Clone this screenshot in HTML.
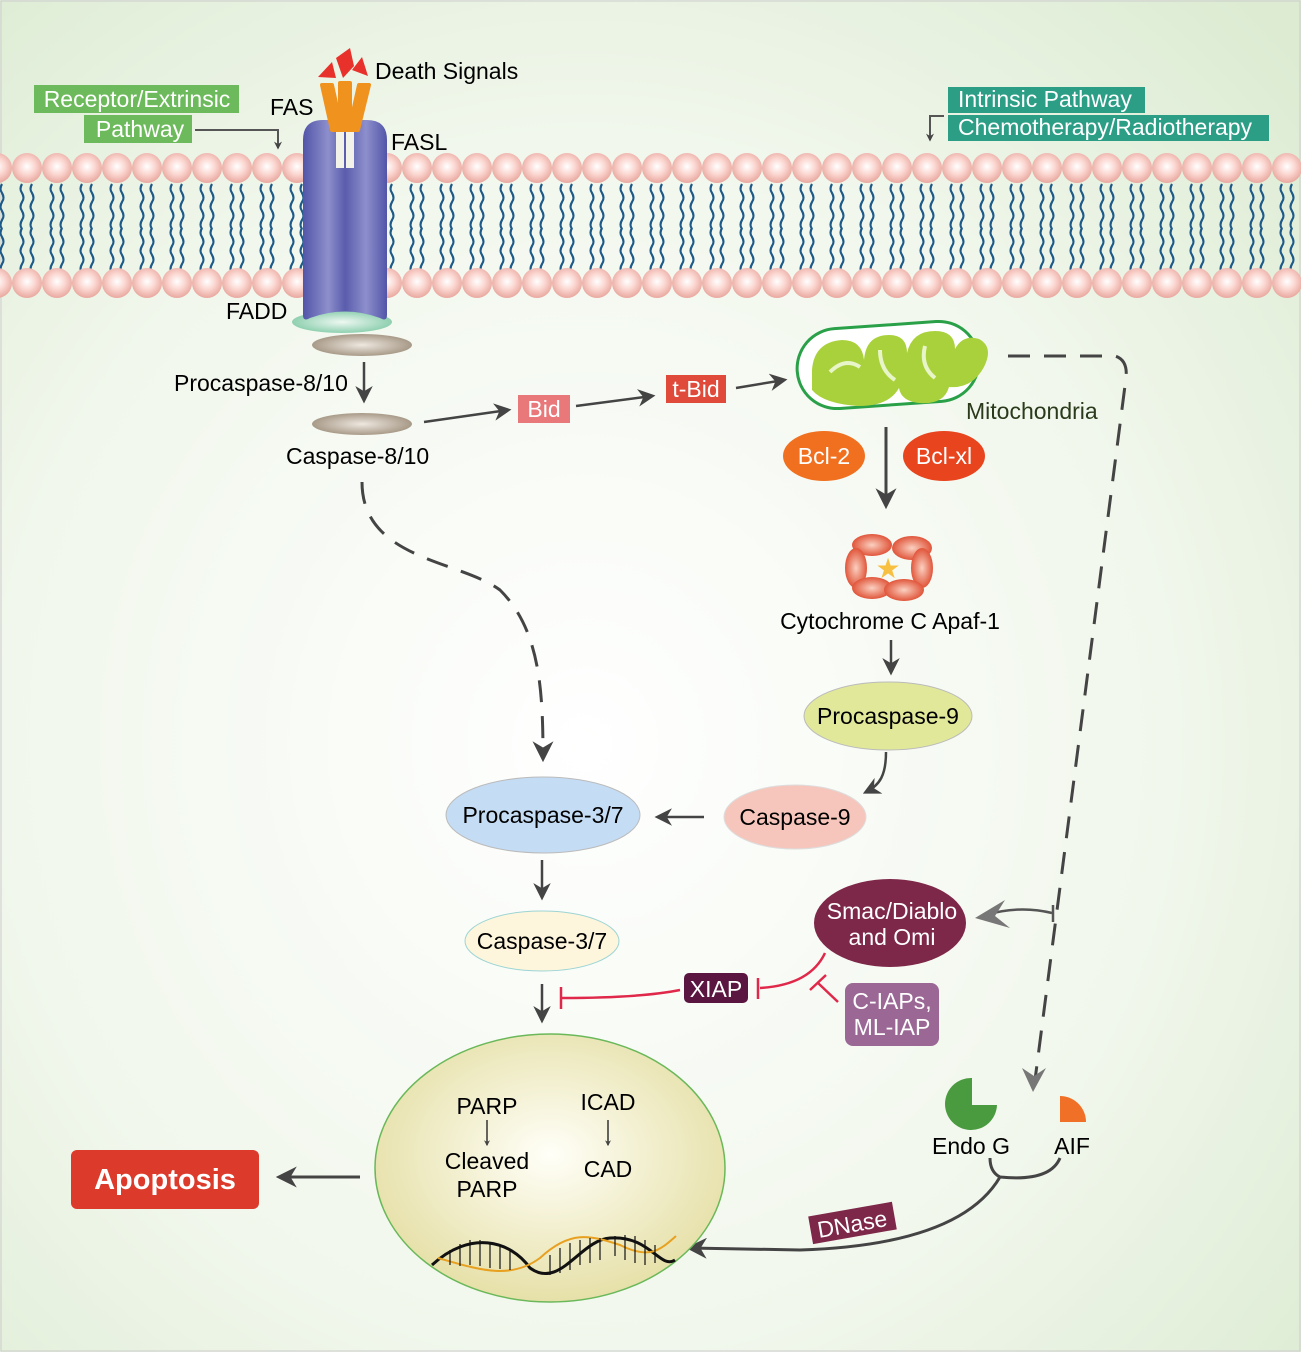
<!DOCTYPE html>
<html><head><meta charset="utf-8"><style>
html,body{margin:0;padding:0;background:#fff}
svg{display:block}
text{font-family:"Liberation Sans",Arial,sans-serif;font-size:23px}
text.big{font-size:29px}
</style></head><body>
<svg width="1301" height="1352" viewBox="0 0 1301 1352" xmlns="http://www.w3.org/2000/svg">
<defs>
<radialGradient id="bg" cx="0.45" cy="0.55" r="0.75">
<stop offset="0" stop-color="#ffffff"/><stop offset="0.6" stop-color="#f1f7ec"/><stop offset="1" stop-color="#dcebd2"/></radialGradient>
<radialGradient id="head" cx="0.5" cy="0.45" r="0.55"><stop offset="0" stop-color="#fff"/><stop offset="0.5" stop-color="#fbd6d0"/><stop offset="1" stop-color="#e8a89f"/></radialGradient>
<pattern id="heads" x="12" y="0" width="30" height="400" patternUnits="userSpaceOnUse">
<path d="M10 184 q-3 5 0 9 q3 5 0 9 q-3 5 0 9 q3 5 0 9 q-3 5 0 9 M20 184 q-3 5 0 9 q3 5 0 9 q-3 5 0 9 q3 5 0 9 q-3 5 0 9 M10 228 q-3 5 0 9 q3 5 0 9 q-3 5 0 9 q3 5 0 9 q-3 5 0 9 M20 228 q-3 5 0 9 q3 5 0 9 q-3 5 0 9 q3 5 0 9 q-3 5 0 9" stroke="#1d5a8a" stroke-width="2.2" fill="none"/>
<circle cx="15" cy="168" r="15" fill="url(#head)"/>
<circle cx="15" cy="283" r="15" fill="url(#head)"/>
</pattern>
<linearGradient id="rec" x1="0" x2="1"><stop offset="0" stop-color="#5255a8"/><stop offset="0.3" stop-color="#8d8fcc"/><stop offset="0.5" stop-color="#5a5cad"/><stop offset="0.75" stop-color="#8d8fcc"/><stop offset="1" stop-color="#5255a8"/></linearGradient>
<radialGradient id="brown"><stop offset="0" stop-color="#eee8e0"/><stop offset="1" stop-color="#a89a88"/></radialGradient>
<radialGradient id="fadd"><stop offset="0" stop-color="#eef8f2"/><stop offset="1" stop-color="#8fd0b0"/></radialGradient>
<radialGradient id="nuc" cx="0.5" cy="0.45" r="0.55"><stop offset="0" stop-color="#fffff8"/><stop offset="1" stop-color="#e6e0a8"/></radialGradient>
<radialGradient id="cyto"><stop offset="0" stop-color="#fbd0c0"/><stop offset="1" stop-color="#e0553a"/></radialGradient>
<marker id="ar" viewBox="0 0 10 10" refX="8" refY="5" markerWidth="7" markerHeight="7" orient="auto"><path d="M0 0 L10 5 L0 10 L3 5z" fill="#444"/></marker>
<marker id="ars" viewBox="0 0 10 10" refX="8" refY="5" markerWidth="4" markerHeight="4" orient="auto"><path d="M0 0 L10 5 L0 10 L3 5z" fill="#444"/></marker>
</defs>
<rect width="1301" height="1352" fill="url(#bg)"/>
<rect x="1" y="1" width="1299" height="1350" fill="none" stroke="#ccc"/>
<rect x="0" y="150" width="1301" height="152" fill="url(#heads)"/>
<!-- receptor -->
<ellipse cx="342" cy="322" rx="50" ry="11" fill="url(#fadd)"/>
<path d="M303 140 Q303 120 323 120 L367 120 Q387 120 387 140 L387 315 Q387 322 380 318 Q345 305 310 318 Q303 322 303 315Z" fill="url(#rec)"/>
<rect x="336" y="125" width="8" height="43" fill="#f2f2e8"/><rect x="346" y="125" width="8" height="43" fill="#f2f2e8"/>
<path d="M322 85 L332 130 L342 130 L332 85Z M340 83 L340 130 L350 130 L350 83Z M359 85 L349 130 L358 130 L369 85Z" fill="#f0921e" stroke="#f0921e" stroke-width="4" stroke-linejoin="round"/>
<path d="M318 77 L332 62 L336 78Z M336 58 L350 48 L354 66 L343 78Z M352 70 L362 57 L368 76Z" fill="#e8312a"/>
<ellipse cx="362" cy="345" rx="50" ry="11" fill="url(#brown)"/>
<ellipse cx="362" cy="424" rx="50" ry="11" fill="url(#brown)"/>
<text x="375" y="79">Death Signals</text>
<text x="270" y="115">FAS</text>
<text x="391" y="150">FASL</text>
<text x="226" y="319">FADD</text>
<rect x="34" y="85" width="205" height="28" fill="#6dba5c"/>
<rect x="84" y="115" width="108" height="28" fill="#6dba5c"/>
<text x="137" y="107" fill="#fff" text-anchor="middle">Receptor/Extrinsic</text>
<text x="140" y="137" fill="#fff" text-anchor="middle">Pathway</text>
<path d="M195 130 L278 130 L278 148" stroke="#555" stroke-width="2" fill="none" marker-end="url(#ars)"/>
<rect x="948" y="87" width="197" height="26" fill="#2d9e86"/>
<rect x="948" y="115" width="321" height="26" fill="#2d9e86"/>
<text x="958" y="107" fill="#fff">Intrinsic Pathway</text>
<text x="958" y="135" fill="#fff">Chemotherapy/Radiotherapy</text>
<path d="M944 116 L930 116 L930 140" stroke="#555" stroke-width="2" fill="none" marker-end="url(#ars)"/>
<!-- extrinsic -->
<text x="174" y="391">Procaspase-8/10</text>
<line x1="364" y1="362" x2="364" y2="400" stroke="#444" stroke-width="2.5" marker-end="url(#ar)"/>
<text x="286" y="464">Caspase-8/10</text>
<line x1="424" y1="422" x2="508" y2="410" stroke="#444" stroke-width="2.5" marker-end="url(#ar)"/>
<rect x="518" y="395" width="52" height="28" fill="#e8787a"/><text x="544" y="417" fill="#fff" text-anchor="middle">Bid</text>
<line x1="576" y1="406" x2="652" y2="396" stroke="#444" stroke-width="2.5" marker-end="url(#ar)"/>
<rect x="666" y="375" width="60" height="28" fill="#e04a3a"/><text x="696" y="397" fill="#fff" text-anchor="middle">t-Bid</text>
<line x1="736" y1="388" x2="784" y2="380" stroke="#444" stroke-width="2.5" marker-end="url(#ar)"/>
<path d="M362 482 C362 560 460 560 500 590 C540 630 543 690 543 758" stroke="#444" stroke-width="3" fill="none" stroke-dasharray="22 14" marker-end="url(#ar)"/>
<!-- mitochondria -->
<rect x="797" y="325" width="182" height="80" rx="40" transform="rotate(-4 888 365)" fill="#fff" stroke="#2aa048" stroke-width="3"/>
<path d="M812 370 q2 -28 30 -30 q20 0 22 20 q2 -25 25 -25 q18 0 18 18 q5 -22 28 -22 q20 0 20 18 q8 -15 24 -10 q15 8 5 28 q-12 22 -35 20 q-5 18 -30 16 q-18 -2 -20 -15 q-10 18 -40 18 q-35 -2 -47 -16z" fill="#a9d13c"/>
<path d="M830 372 q15 -15 30 -5 M880 350 q0 20 15 30 M925 346 q-5 20 10 32" stroke="#e8f5c8" stroke-width="4" fill="none"/>
<text x="966" y="419" fill="#2a3a1a">Mitochondria</text>
<path d="M1008 356 L1115 356 Q1128 360 1126 378 L1035 1080" stroke="#444" stroke-width="3" fill="none" stroke-dasharray="22 14"/>
<path d="M1022 1068 L1033 1092 L1046 1068 L1034 1076Z" fill="#777"/>
<ellipse cx="824" cy="456" rx="41" ry="25" fill="#f07020"/><text x="824" y="464" fill="#fff" text-anchor="middle">Bcl-2</text>
<ellipse cx="944" cy="456" rx="41" ry="25" fill="#e8441e"/><text x="944" y="464" fill="#fff" text-anchor="middle">Bcl-xl</text>
<line x1="886" y1="427" x2="886" y2="505" stroke="#444" stroke-width="3" marker-end="url(#ar)"/>
<g fill="url(#cyto)">
<ellipse cx="872" cy="545" rx="20" ry="11"/><ellipse cx="912" cy="548" rx="20" ry="12"/><ellipse cx="922" cy="568" rx="11" ry="20"/>
<ellipse cx="856" cy="568" rx="11" ry="20"/><ellipse cx="872" cy="588" rx="20" ry="11"/><ellipse cx="904" cy="590" rx="20" ry="11"/></g>
<text x="888" y="578" fill="#f8c040" text-anchor="middle" style="font-size:28px">★</text>
<text x="890" y="629" text-anchor="middle">Cytochrome C Apaf-1</text>
<line x1="891" y1="640" x2="891" y2="672" stroke="#444" stroke-width="2.5" marker-end="url(#ar)"/>
<ellipse cx="888" cy="716" rx="84" ry="34" fill="#e1e89a" stroke="#bbb"/><text x="888" y="724" text-anchor="middle">Procaspase-9</text>
<path d="M886 752 C886 775 880 785 866 792" stroke="#444" stroke-width="2.5" fill="none" marker-end="url(#ar)"/>
<ellipse cx="795" cy="817" rx="71" ry="32" fill="#f6c6bc" stroke="#ddd"/><text x="795" y="825" text-anchor="middle">Caspase-9</text>
<line x1="704" y1="817" x2="658" y2="817" stroke="#444" stroke-width="2.5" marker-end="url(#ar)"/>
<ellipse cx="543" cy="815" rx="97" ry="38" fill="#c4dcf4" stroke="#bbb"/><text x="543" y="823" text-anchor="middle">Procaspase-3/7</text>
<line x1="542" y1="860" x2="542" y2="897" stroke="#444" stroke-width="2.5" marker-end="url(#ar)"/>
<ellipse cx="542" cy="941" rx="77" ry="30" fill="#fdf6dc" stroke="#9cd4d4"/><text x="542" y="949" text-anchor="middle">Caspase-3/7</text>
<line x1="542" y1="984" x2="542" y2="1020" stroke="#444" stroke-width="2.5" marker-end="url(#ar)"/>
<!-- inhibitors -->
<ellipse cx="890" cy="923" rx="76" ry="44" fill="#7d2749"/>
<text x="892" y="919" fill="#fff" text-anchor="middle">Smac/Diablo</text>
<text x="892" y="945" fill="#fff" text-anchor="middle">and Omi</text>
<path d="M1052 913 Q1020 905 985 915" stroke="#555" stroke-width="2.5" fill="none"/>
<line x1="1053" y1="905" x2="1053" y2="922" stroke="#555" stroke-width="2.5"/>
<path d="M975 918 L1005 900 L995 916 L1010 928Z" fill="#777"/>
<rect x="684" y="973" width="64" height="30" rx="5" fill="#5a1540"/><text x="716" y="997" fill="#fff" text-anchor="middle">XIAP</text>
<path d="M825 953 Q810 985 760 988" stroke="#e0284a" stroke-width="2.5" fill="none"/>
<line x1="758" y1="978" x2="758" y2="999" stroke="#e0284a" stroke-width="2.5"/>
<path d="M838 1002 L818 983 M810 990 L826 975" stroke="#e0284a" stroke-width="2.5"/>
<path d="M680 990 Q640 998 562 998" stroke="#e0284a" stroke-width="2.5" fill="none"/>
<line x1="561" y1="987" x2="561" y2="1009" stroke="#e0284a" stroke-width="2.5"/>
<rect x="845" y="983" width="94" height="63" rx="8" fill="#9b6896"/>
<text x="892" y="1009" fill="#fff" text-anchor="middle">C-IAPs,</text>
<text x="892" y="1035" fill="#fff" text-anchor="middle">ML-IAP</text>
<!-- endo G / AIF -->
<path d="M972 1078 A26 26 0 1 0 997 1105 L972 1105Z" fill="#4a9a40"/>
<path d="M1060 1122 L1060 1096 A26 26 0 0 1 1086 1122Z" fill="#f07028"/>
<text x="971" y="1154" text-anchor="middle">Endo G</text>
<text x="1072" y="1154" text-anchor="middle">AIF</text>
<path d="M990 1158 Q990 1172 1000 1177 Q1050 1182 1060 1158 M1000 1177 Q960 1245 800 1250 L690 1248" stroke="#444" stroke-width="3" fill="none" marker-end="url(#ar)"/>
<rect x="810" y="1209" width="85" height="28" fill="#7d2749" transform="rotate(-10 852 1223)"/>
<text x="852" y="1232" fill="#fff" text-anchor="middle" transform="rotate(-10 852 1223)">DNase</text>
<!-- nucleus -->
<ellipse cx="550" cy="1168" rx="175" ry="134" fill="url(#nuc)" stroke="#6ab85a" stroke-width="1.5"/>
<text x="487" y="1114" text-anchor="middle">PARP</text>
<line x1="487" y1="1120" x2="487" y2="1145" stroke="#333" stroke-width="1.5" marker-end="url(#ars)"/>
<text x="487" y="1169" text-anchor="middle">Cleaved</text>
<text x="487" y="1197" text-anchor="middle">PARP</text>
<text x="608" y="1110" text-anchor="middle">ICAD</text>
<line x1="608" y1="1120" x2="608" y2="1145" stroke="#333" stroke-width="1.5" marker-end="url(#ars)"/>
<text x="608" y="1177" text-anchor="middle">CAD</text>
<path d="M432 1265 C470 1230 510 1240 530 1268 C560 1290 580 1240 610 1238 C650 1235 660 1270 675 1260" stroke="#111" stroke-width="3" fill="none"/>
<path d="M438 1258 C480 1270 510 1280 540 1258 C570 1230 590 1235 620 1245 C650 1260 660 1250 676 1236" stroke="#e8a020" stroke-width="2" fill="none"/>
<g stroke="#111" stroke-width="1.2"><path d="M450 1250v15M460 1244v22M470 1240v25M480 1240v26M490 1242v26M500 1245v24M510 1250v20M550 1255v20M560 1248v25M570 1243v27M580 1240v25M590 1238v25M600 1238v22M615 1236v20M625 1235v25M635 1236v27M645 1240v25M655 1245v18"/></g>
<!-- apoptosis -->
<line x1="360" y1="1177" x2="280" y2="1177" stroke="#444" stroke-width="3" marker-end="url(#ar)"/>
<rect x="71" y="1150" width="188" height="59" rx="6" fill="#dc3a2a"/>
<text x="165" y="1189" class="big" font-weight="bold" fill="#fff" text-anchor="middle">Apoptosis</text>
</svg>
</body></html>
